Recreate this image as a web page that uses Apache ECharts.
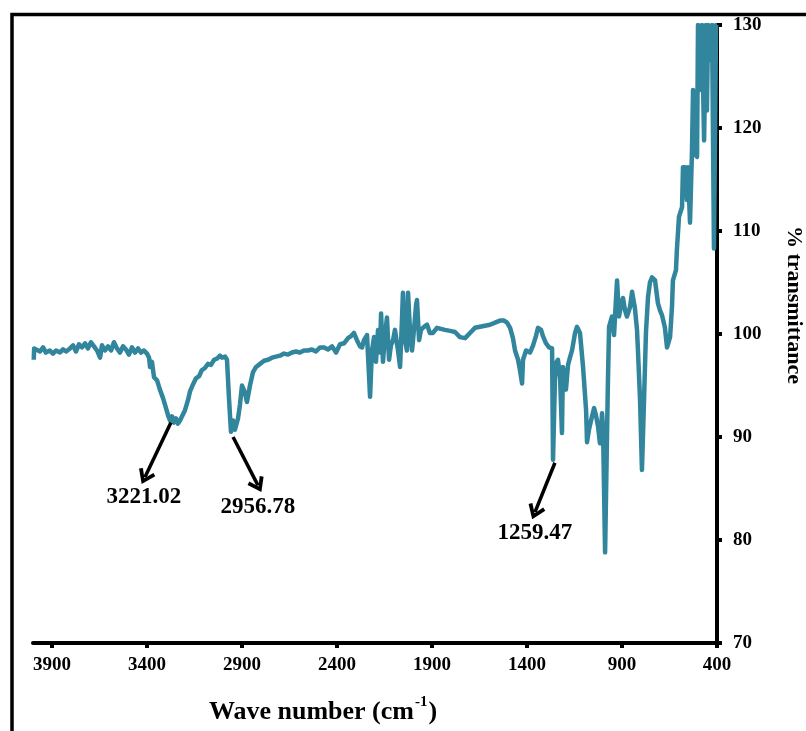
<!DOCTYPE html>
<html>
<head>
<meta charset="utf-8">
<script src="https://cdn.jsdelivr.net/npm/echarts@6/dist/echarts.min.js"></script>
<style>
html,body{margin:0;padding:0;background:#fff;}
#chart{width:806px;height:731px;}
</style>
</head>
<body>
<div id="chart"></div>
<script>
const wavenumber = [3996,3994,3984,3963,3947,3932,3911,3895,3879,3858,3842,3826,3805,3789,3774,3758,3742,3726,3711,3695,3679,3663,3647,3637,3621,3605,3589,3574,3558,3542,3526,3511,3495,3479,3463,3447,3432,3416,3400,3389,3384,3374,3363,3347,3332,3316,3300,3289,3279,3268,3258,3247,3237,3226,3216,3200,3184,3174,3158,3142,3126,3111,3095,3079,3063,3047,3032,3016,3005,2989,2979,2968,2958,2947,2937,2921,2911,2900,2884,2874,2858,2842,2826,2805,2784,2763,2742,2721,2700,2679,2658,2637,2616,2595,2574,2553,2532,2511,2489,2468,2447,2426,2405,2384,2363,2342,2326,2311,2295,2279,2268,2258,2242,2226,2216,2205,2195,2184,2174,2168,2158,2147,2137,2126,2116,2105,2095,2079,2068,2058,2053,2042,2032,2026,2016,2005,1995,1984,1979,1968,1958,1942,1926,1911,1895,1874,1853,1832,1805,1779,1753,1726,1700,1674,1647,1621,1595,1568,1542,1521,1505,1489,1474,1463,1447,1437,1426,1421,1405,1384,1368,1353,1342,1326,1316,1300,1284,1268,1263,1253,1247,1237,1226,1216,1211,1200,1195,1184,1174,1163,1147,1137,1121,1105,1089,1084,1074,1063,1047,1037,1026,1016,1005,1000,989,979,974,968,953,942,932,926,916,905,895,884,874,858,847,832,821,816,805,795,784,774,763,753,742,726,711,700,689,674,663,647,637,632,616,611,600,584,579,568,558,553,542,532,526,521,505,500,489,479,468,458,453,447,437,426,421,416,405,400];
const transmittance = [97.5,98.6,98.6,98.3,98.7,98.2,98.4,98.1,98.4,98.2,98.5,98.3,98.6,98.9,98.3,99.0,98.7,99.1,98.6,99.2,98.8,98.4,97.7,98.9,98.4,98.8,98.4,99.2,98.6,98.2,98.8,98.5,98.0,98.7,98.2,98.6,98.2,98.4,98.1,97.7,96.8,97.3,95.8,95.5,94.6,93.8,92.8,92.1,91.6,92.0,91.4,91.8,91.3,91.6,92.0,92.6,93.6,94.4,95.1,95.7,95.9,96.5,96.7,97.1,97.0,97.5,97.6,97.9,97.7,97.8,97.5,93.6,90.5,91.6,90.7,91.8,93.1,95.0,94.3,93.4,95.0,96.3,96.8,97.1,97.4,97.5,97.7,97.8,97.9,98.1,98.0,98.2,98.3,98.2,98.4,98.4,98.5,98.3,98.7,98.7,98.5,98.8,98.2,99.0,99.1,99.6,99.8,100.1,99.4,98.8,98.7,99.4,99.9,93.9,98.4,99.7,97.3,100.4,98.2,102.0,97.3,99.9,101.6,97.5,98.9,99.4,100.4,98.4,96.8,101.4,104.0,99.4,98.4,104.0,100.4,98.4,100.4,102.8,103.3,99.4,100.4,100.7,100.9,100.1,100.1,100.6,100.5,100.4,100.3,100.2,99.7,99.6,100.1,100.6,100.7,100.8,100.9,101.1,101.3,101.3,101.1,100.6,99.6,98.4,97.5,96.5,95.2,97.5,98.4,98.2,98.9,99.8,100.6,100.4,99.8,99.1,98.7,98.6,87.8,95.5,97.2,97.5,95.8,90.4,96.8,95.5,94.6,97.0,97.7,98.4,100.1,100.7,100.1,96.8,92.6,89.5,90.7,91.6,92.8,92.1,91.0,89.4,92.3,91.0,78.8,90.0,95.5,100.7,101.7,99.9,103.3,105.2,101.7,102.8,103.5,102.3,101.7,102.6,104.1,102.5,100.4,98.4,93.6,86.8,93.6,100.1,103.6,105.0,105.5,105.2,103.0,102.3,101.8,100.6,98.7,99.7,102.6,105.2,106.2,108.2,111.4,112.3,116.2,116.2,113.0,116.2,110.8,117.6,123.7,117.6,117.2,130,123.7,130,118.8,130,121.7,130,126.6,130,130,108.3,130,130];

const xTickValues = [3900,3400,2900,2400,1900,1400,900,400];
const yTickValues = [70,80,90,100,110,120,130];

const peakLabels = ['3221.02','2956.78','1259.47'];
const arrowStart = [[3274,91.4],[2947,90.0],[1253,87.5]];
const arrowEnd = [[3411,86.1],[2816,85.3],[1358,82.7]];
const labelPos = [[3416,84.2],[2816,83.2],[1358,80.7]];

const SERIF = "'Liberation Serif','Times New Roman',serif";
const chart = echarts.init(document.getElementById('chart'), null, {renderer:'canvas'});

const chevron = 'path://M10,0 L20,14 L16.5,16.5 L10,7 L3.5,16.5 L0,14 Z';

const option = {
  backgroundColor: '#ffffff',
  animation: false,
  grid: {left: 33, right: 89, top: 25, bottom: 88, containLabel: false},
  xAxis: {
    type: 'value', inverse: true, min: 400, max: 4000,
    axisLine: {show: true, onZero: false, lineStyle: {color: '#000', width: 4}},
    axisTick: {show: true, customValues: xTickValues, length: 5, inside: false, lineStyle: {color: '#000', width: 4}},
    axisLabel: {show: true, customValues: xTickValues, formatter: v => String(v), margin: 13, color: '#000', fontFamily: SERIF, fontWeight: 'bold', fontSize: 19},
    splitLine: {show: false}
  },
  yAxis: {
    type: 'value', position: 'right', min: 70, max: 130,
    axisLine: {show: true, onZero: false, lineStyle: {color: '#000', width: 4}},
    axisTick: {show: true, customValues: yTickValues, length: 5, lineStyle: {color: '#000', width: 4}},
    axisLabel: {show: true, customValues: yTickValues, formatter: v => String(v), margin: 16, color: '#000', fontFamily: SERIF, fontWeight: 'bold', fontSize: 19},
    splitLine: {show: false}
  },
  series: [
    {
      type: 'line',
      data: wavenumber.map((w, i) => [w, transmittance[i]]),
      showSymbol: false,
      symbol: 'none',
      smooth: false,
      clip: true,
      lineStyle: {color: '#31859C', width: 4.5, join: 'round'},
      z: 2
    },
    {
      type: 'line',
      data: [],
      markLine: {
        silent: true,
        symbol: ['none', chevron],
        symbolSize: [18, 15],
        label: {show: false},
        lineStyle: {color: '#000', width: 3.5, type: 'solid'},
        data: arrowStart.map((s, i) => [{coord: s}, {coord: arrowEnd[i]}])
      },
      z: 3
    },
    {
      type: 'scatter',
      symbolSize: 0,
      itemStyle: {color: '#000', opacity: 1},
      data: labelPos.map((p, i) => ({value: p, name: peakLabels[i]})),
      label: {
        show: true, position: 'inside',
        formatter: p => p.name,
        color: '#000', opacity: 1, textBorderWidth: 0, fontFamily: SERIF, fontWeight: 'bold', fontSize: 23
      },
      z: 4
    }
  ],
  graphic: [
    {
      type: 'rect', silent: true, z: -1,
      shape: {x: 12, y: 14.5, width: 1000, height: 1000},
      style: {fill: 'none', stroke: '#000', lineWidth: 3.5}
    },
    {
      type: 'text', silent: true,
      x: 323, y: 710,
      style: {
        text: '{a|Wave number (cm}{s|-1}{a|)}',
        align: 'center', verticalAlign: 'middle',
        fill: '#000',
        rich: {
          a: {fontFamily: SERIF, fontWeight: 'bold', fontSize: 26, lineHeight: 30, fill: '#000', verticalAlign: 'bottom'},
          s: {fontFamily: SERIF, fontWeight: 'bold', fontSize: 15, lineHeight: 30, fill: '#000', verticalAlign: 'top', padding: [0, 1, 14, 1]}
        }
      }
    },
    {
      type: 'text', silent: true,
      x: 794, y: 305, rotation: -Math.PI / 2,
      style: {
        text: '% transmittance',
        align: 'center', verticalAlign: 'middle',
        fill: '#000',
        font: "bold 22px 'Liberation Serif', serif"
      }
    }
  ]
};
chart.setOption(option);
</script>
</body>
</html>
